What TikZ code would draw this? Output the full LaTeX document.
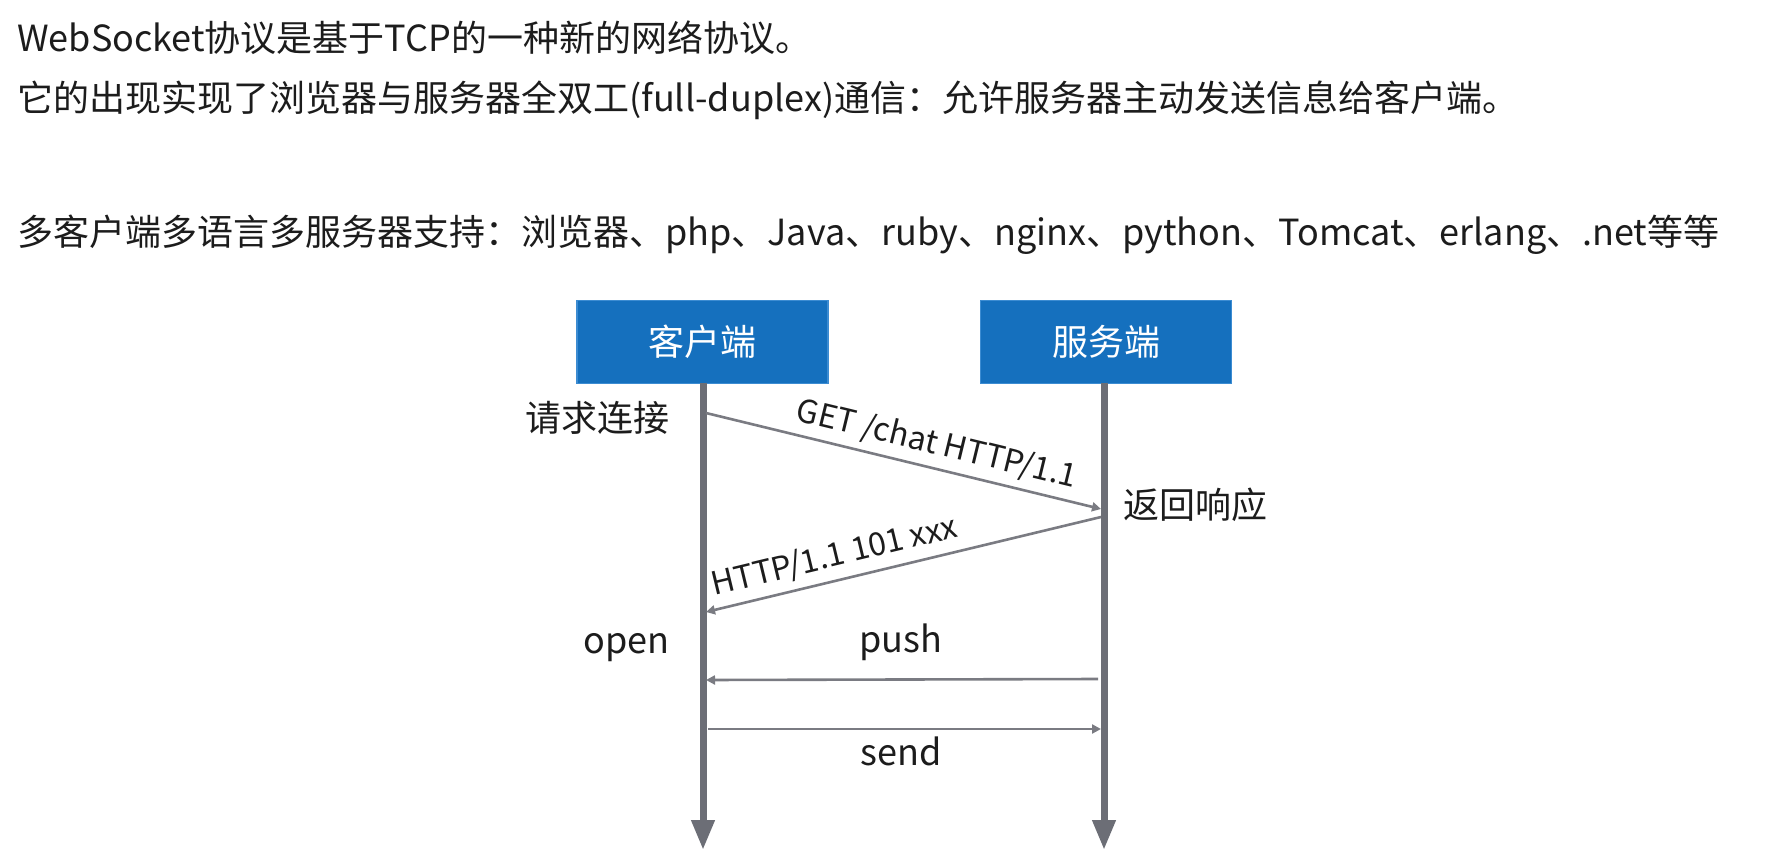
\documentclass[tikz,border=0pt]{standalone}
\usepackage{fontspec}
\setmainfont{Noto Sans CJK SC}
\usetikzlibrary{arrows.meta}
\definecolor{boxblue}{RGB}{21,112,190}
\definecolor{boxedge}{RGB}{60,140,210}
\definecolor{lifegray}{RGB}{108,110,118}
\definecolor{msggray}{RGB}{122,123,130}
\definecolor{txt}{RGB}{28,28,28}
\begin{document}
\begin{tikzpicture}[x=1pt,y=-1pt,
  every node/.style={inner sep=0pt, text=txt, font=\fontsize{36}{40}\selectfont},
  para/.style={anchor=west},
  actor/.style={fill=boxblue, draw=boxedge, line width=1.5pt, minimum width=251pt, minimum height=83pt, text=white},
  life/.style={draw=lifegray, line width=7pt, -{Triangle[length=30pt,width=22pt]}},
  msg/.style={draw=msggray, line width=2.6pt, -{Triangle[length=9pt,width=9pt]}},
  lbl/.style={font=\fontsize{32}{36}\selectfont, sloped, above=7pt}]
\useasboundingbox (0,0) rectangle (1788,867);
\fill[white] (0,0) rectangle (1788,867);

\node[para] (t1) at (17,38) {WebSocket协议是基于TCP的一种新的网络协议。};
\node[para] (t2) at (17,100) {它的出现实现了浏览器与服务器全双工(full-duplex)通信：允许服务器主动发送信息给客户端。};
\node[para] (t3) at (17,235) {多客户端多语言多服务器支持：浏览器、php、Java、ruby、nginx、python、Tomcat、erlang、.net等等};

\node[actor] (client) at (702.5,342) {客户端};
\node[actor] (server) at (1106,342) {服务端};

\coordinate (cend) at (703,850);
\coordinate (send) at (1104,850);
\draw[life] (703,383) -- (cend);
\draw[life] (1104,383) -- (send);

\coordinate (c1) at (706,413);
\coordinate (s1) at (1101,509);
\coordinate (s2) at (1101,517);
\coordinate (c2) at (706,612);
\coordinate (s3) at (1098,679);
\coordinate (c3) at (706,680);
\coordinate (c4) at (708,729);
\coordinate (s4) at (1101,729);

\draw[msg] (c1) -- node[lbl, pos=0.57] (getl) {GET /chat HTTP/1.1} (s1);
\draw[msg, {Triangle[length=9pt,width=9pt]}-] (c2) -- node[lbl, pos=0.34] (httpl) {HTTP/1.1 101 xxx} (s2);
\draw[msg] (s3) -- (c3);
\draw[msg] (c4) -- (s4);

\node (push) at (901,642) {push};
\node (sendl) at (901,751) {send};
\node[anchor=east] (req) at (670,418) {请求连接};
\node[anchor=west] (resp) at (1123,505) {返回响应};
\node[anchor=east] (open) at (670,648) {open};
\end{tikzpicture}
\end{document}
